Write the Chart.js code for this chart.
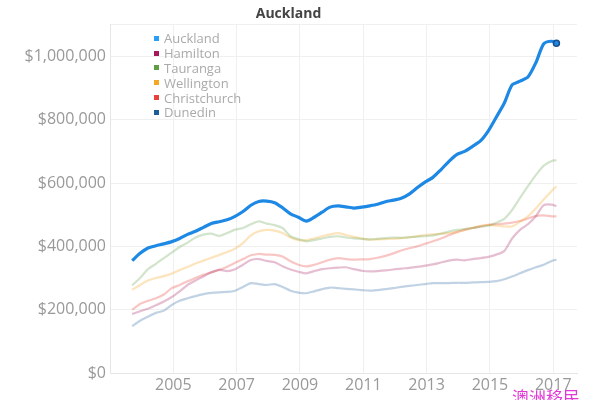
<!DOCTYPE html>
<html>
<head>
<meta charset="utf-8">
<script src="https://cdn.jsdelivr.net/npm/chart.js@4.4.1/dist/chart.umd.min.js"></script>
<style>
    html, body { margin: 0; padding: 0; background: #fff; overflow: hidden; }
    #chartContainer { position: relative; width: 600px; height: 400px; }
    #legend {
        position: absolute; left: 154px; top: 31px;
        font-family: "Open Sans", sans-serif; font-size: 13px; color: #aaa;
    }
    #legend div { display: flex; align-items: center; height: 14.8px; }
    #legend span.box { width: 5px; height: 5px; margin-right: 5px; }
    #watermark {
        position: absolute; left: 512px; top: 384px;
        font-family: "Noto Sans CJK SC", sans-serif; font-size: 17px; color: #e03ad6;
    }
</style>
</head>
<body>
<div id="chartContainer">
    <canvas id="priceChart" width="600" height="400"></canvas>
    <div id="legend"></div>
    <div id="watermark">澳洲移民</div>
</div>
<script>
// Quarterly sample points (decimal years)
const years = [
    2003.70, 2003.95, 2004.20, 2004.45, 2004.70, 2004.95, 2005.20, 2005.45, 2005.70, 2005.95,
    2006.20, 2006.45, 2006.70, 2006.95, 2007.20, 2007.45, 2007.70, 2007.95, 2008.20, 2008.45,
    2008.70, 2008.95, 2009.20, 2009.45, 2009.70, 2009.95, 2010.20, 2010.45, 2010.70, 2010.95,
    2011.20, 2011.45, 2011.70, 2011.95, 2012.20, 2012.45, 2012.70, 2012.95, 2013.20, 2013.45,
    2013.70, 2013.95, 2014.20, 2014.45, 2014.70, 2014.95, 2015.20, 2015.45, 2015.70, 2015.95,
    2016.20, 2016.45, 2016.70, 2016.95, 2017.10
];

// Median house values, $ thousands
const auckland = [
    355, 378, 395, 402, 408, 415, 425, 438, 448, 460,
    472, 478, 484, 495, 510, 530, 542, 543, 538, 522,
    503, 492, 480, 492, 508, 524, 528, 525, 521, 524,
    528, 533, 541, 546, 552, 565, 585, 603, 618, 642,
    668, 690, 700, 716, 733, 765, 808, 852, 910, 922,
    935, 980, 1040, 1048, 1042
];
const hamilton = [
    186, 195, 203, 214, 226, 240, 258, 278, 292, 305,
    318, 326, 322, 328, 342, 357, 360, 354, 350, 337,
    327, 320, 315, 322, 328, 331, 333, 334, 328, 323,
    321, 322, 324, 327, 330, 332, 335, 339, 343, 349,
    355, 358, 356, 360, 363, 367, 374, 385, 425, 452,
    470, 495, 530, 532, 527
];
const tauranga = [
    277, 300, 328, 345, 363, 380, 398, 412, 428, 437,
    440, 433, 442, 453, 458, 470, 479, 472, 467, 458,
    432, 423, 416, 420, 425, 430, 432, 428, 425, 424,
    422, 424, 426, 428, 427, 429, 431, 432, 435, 440,
    447, 452, 455, 458, 462, 465, 475, 487, 515, 553,
    590, 625, 655, 670, 672
];
const wellington = [
    263, 278, 292, 300, 306, 314, 325, 335, 346, 355,
    364, 373, 382, 393, 410, 435, 448, 452, 450, 442,
    428, 420, 420, 425, 432, 438, 442, 436, 430, 425,
    421, 422, 423, 424, 426, 428, 432, 436, 438, 440,
    442, 445, 452, 458, 465, 468, 466, 463, 463, 478,
    495, 520, 548, 575, 590
];
const christchurch = [
    200, 218, 228, 236, 248, 268, 278, 290, 300, 310,
    318, 326, 336, 348, 360, 372, 376, 374, 373, 368,
    353, 342, 337, 342, 350, 358, 363, 360, 358, 359,
    360, 364, 370, 378, 387, 394, 400, 408, 416, 425,
    435, 445, 452, 458, 463, 468, 470, 472, 475, 480,
    488, 496, 498, 495, 495
];
const dunedin = [
    148, 165, 178, 190, 197, 215, 228, 236, 243, 249,
    253, 255, 256, 260, 272, 284, 281, 278, 281, 272,
    260, 254, 252, 258, 265, 270, 268, 266, 264, 262,
    260, 262, 265, 268, 272, 275, 278, 281, 284, 284,
    284, 285, 285, 286, 287, 288, 290, 296, 305, 315,
    325, 334, 342, 354, 358
];

const cities = ["Auckland", "Hamilton", "Tauranga", "Wellington", "Christchurch", "Dunedin"];
const seriesValues = [auckland, hamilton, tauranga, wellington, christchurch, dunedin];
const legendColors = ["#2a9df4", "#a3195b", "#5e9e43", "#f5a623", "#e8413a", "#1b5e9a"];
const lineColors = [
    "#1e88e5",
    "rgba(163, 25, 91, 0.28)",
    "rgba(94, 158, 67, 0.28)",
    "rgba(245, 166, 35, 0.3)",
    "rgba(232, 65, 58, 0.3)",
    "rgba(27, 94, 154, 0.28)"
];
const xTicks = [2005, 2007, 2009, 2011, 2013, 2015, 2017];
const yTicks = [0, 200, 400, 600, 800, 1000];

const datasets = cities.map(function (name, i) {
    const pts = years.map((yr, j) => ({ x: yr, y: seriesValues[i][j] }));
    const isMain = i === 0;
    return {
        label: name,
        data: pts,
        borderColor: lineColors[i],
        borderWidth: isMain ? 3.2 : 2.2,
        tension: 0.25,
        pointRadius: isMain ? pts.map((p, j) => j === pts.length - 1 ? 3 : 0) : 0,
        pointBorderColor: "#1b4f8a",
        pointBackgroundColor: "#1e88e5",
        pointBorderWidth: 1.5
    };
});

// HTML legend
const legendEl = document.getElementById("legend");
cities.forEach(function (name, i) {
    const row = document.createElement("div");
    row.innerHTML = '<span class="box" style="background:' + legendColors[i] + '"></span>' + name;
    legendEl.appendChild(row);
});

const tickFont = { family: "'Open Sans', sans-serif", size: 16 };

const ctx = document.getElementById("priceChart").getContext("2d");
new Chart(ctx, {
    type: "line",
    data: { datasets: datasets },
    options: {
        responsive: false,
        animation: false,
        layout: { padding: { left: 0, right: 23, top: 0, bottom: 0 } },
        plugins: {
            legend: { display: false },
            tooltip: { enabled: false },
            title: {
                display: true,
                text: "Auckland",
                color: "#444",
                font: { family: "'Open Sans', sans-serif", size: 14, weight: "bold" },
                padding: { top: 6, bottom: 2 }
            }
        },
        scales: {
            x: {
                type: "linear",
                min: 2003,
                max: 2017.75,
                afterBuildTicks: function (scale) {
                    scale.ticks = xTicks.map(v => ({ value: v }));
                },
                afterFit: function (scale) { scale.height = 27; },
                grid: { color: "#f0f0f0", drawTicks: false },
                border: { color: "#e6e6e6" },
                ticks: {
                    color: "#999",
                    font: tickFont,
                    padding: 3,
                    maxRotation: 0,
                    callback: v => String(v)
                }
            },
            y: {
                min: 0,
                max: 1100,
                afterBuildTicks: function (scale) {
                    scale.ticks = yTicks.concat([1100]).map(v => ({ value: v }));
                },
                afterFit: function (scale) { scale.width = 110; },
                grid: { color: "#f0f0f0", drawTicks: false },
                border: { color: "#e6e6e6" },
                ticks: {
                    color: "#999",
                    font: tickFont,
                    padding: 4,
                    callback: function (v) {
                        if (v > 1000) return "";
                        return "$" + (v * 1000).toLocaleString("en-US");
                    }
                }
            }
        }
    }
});
</script>
</body>
</html>
